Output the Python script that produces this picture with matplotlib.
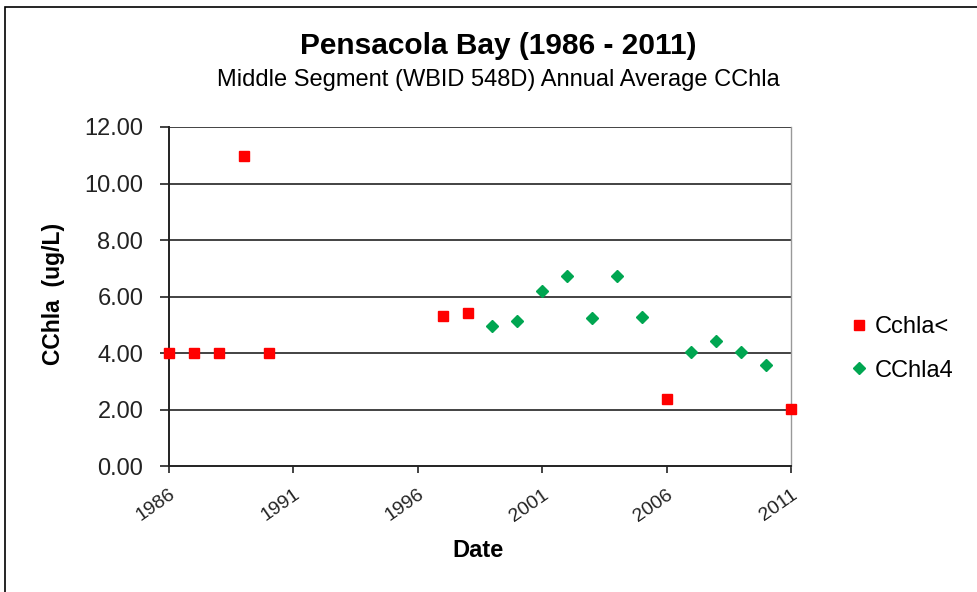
import matplotlib
matplotlib.use("Agg")
import matplotlib.pyplot as plt
from matplotlib.patches import Rectangle

plt.rcParams['font.family'] = ['Liberation Sans', 'DejaVu Sans']

# annual average CChla
red_years = [1986, 1987, 1988, 1989, 1990, 1997, 1998, 2006, 2011]
red_vals = [4.00, 4.00, 4.00, 10.97, 4.00, 5.33, 5.42, 2.39, 2.03]
green_years = [1999, 2000, 2001, 2002, 2003, 2004, 2005, 2007, 2008, 2009, 2010]
green_vals = [4.98, 5.16, 6.20, 6.73, 5.25, 6.73, 5.30, 4.03, 4.43, 4.03, 3.58]
x_ticks = [1986, 1991, 1996, 2001, 2006, 2011]
y_ticks = [0, 2, 4, 6, 8, 10, 12]

fig = plt.figure(figsize=(9.77, 5.92), dpi=100)
# outer chart frame (right and bottom edges fall outside the image)
fig.patches.append(Rectangle((0.005, -0.1), 1.1, 1.088, transform=fig.transFigure,
                             fill=False, edgecolor='black', linewidth=1.2))

ax = fig.add_axes([0.173, 0.212, 0.6366, 0.5735])
for y in y_ticks[1:]:
    ax.axhline(y, color='#222222', linewidth=1.2, zorder=1)

ax.plot(red_years, red_vals, 's', color='#FF0000', markersize=6.5,
        linestyle='none', label='Cchla<', clip_on=False, zorder=3)
ax.plot(green_years, green_vals, 'D', color='#00A651', markersize=6.5,
        linestyle='none', label='CChla4', clip_on=False, zorder=3)

ax.set_xlim(1986, 2011)
ax.set_ylim(0, 12)
ax.set_xticks(x_ticks)
ax.set_xticklabels([str(t) for t in x_ticks], rotation=35, ha='right',
                   rotation_mode='anchor', fontsize=14, color='#222222')
ax.set_yticks(y_ticks)
ax.set_yticklabels(['%.2f' % t for t in y_ticks], fontsize=17, color='#222222')
ax.tick_params(axis='x', direction='out', length=5, width=1.2, color='#222222', pad=9)
ax.tick_params(axis='y', direction='out', length=6.5, width=1.2, color='#222222', pad=12)

for s in ['left', 'bottom']:
    ax.spines[s].set_color('#222222')
    ax.spines[s].set_linewidth(1.4)
ax.spines['right'].set_color('#999999')
ax.spines['right'].set_linewidth(1.0)
ax.spines['top'].set_visible(False)

ax.set_xlabel('Date', fontsize=17, fontweight='bold', va='center')
ax.xaxis.set_label_coords(0.497, -0.246)
ax.set_ylabel('CChla  (ug/L)', fontsize=16.5, fontweight='bold', va='center')
ax.yaxis.set_label_coords(-0.186, 0.508)

fig.text(0.51, 0.922, 'Pensacola Bay (1986 - 2011)', ha='center', va='center',
         fontsize=21.5, fontweight='bold')
fig.text(0.51, 0.865, 'Middle Segment (WBID 548D) Annual Average CChla',
         ha='center', va='center', fontsize=17)

leg = ax.legend(loc='center left', bbox_to_anchor=(0.872, 0.4105),
                bbox_transform=fig.transFigure, frameon=False, fontsize=17,
                handlelength=0.6, handletextpad=0.35, labelspacing=0.9,
                borderpad=0, borderaxespad=0, markerscale=1.0)

fig.savefig('out.png', dpi=100)
